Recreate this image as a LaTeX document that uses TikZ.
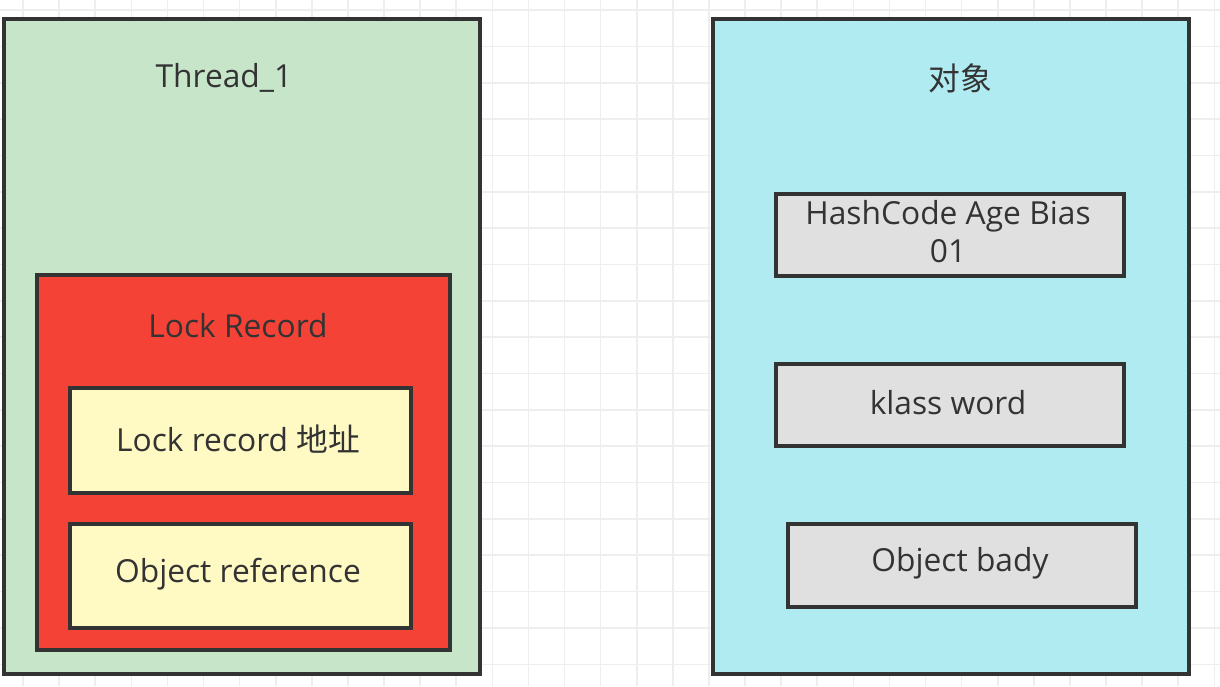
\documentclass[tikz,border=0pt]{standalone}
\usepackage{fontspec}
\setmainfont{Open Sans}
\newfontfamily\cjk{Noto Sans CJK SC}
\definecolor{gridc}{HTML}{EEEEEE}
\definecolor{edge}{HTML}{333333}
\definecolor{txt}{HTML}{333333}
\definecolor{greenf}{HTML}{C7E5C9}
\definecolor{redf}{HTML}{F44336}
\definecolor{yellowf}{HTML}{FFF9C4}
\definecolor{cyanf}{HTML}{B1EBF2}
\definecolor{greyf}{HTML}{E0E0E0}
\tikzset{
  box/.style={draw=edge, line width=3.6pt*0.75, rectangle, anchor=north west, inner sep=0pt, text=txt},
  lbl/.style={text=txt, inner sep=0pt, font=\fontsize{23.8}{28.5}\selectfont},
}
\begin{document}
\begin{tikzpicture}[x=0.75pt,y=-0.75pt]
\useasboundingbox (0,0) rectangle (1220,686);
\fill[white] (0,0) rectangle (1220,686);
% grid
\foreach \i in {0,...,33} {
  \pgfmathsetmacro\xx{23+36.1*\i}
  \draw[gridc, line width=1.2pt] (\xx,0) -- (\xx,686);
}
\foreach \j in {0,...,18} {
  \pgfmathsetmacro\yy{10+36.35*\j}
  \draw[gridc, line width=1.2pt] (0,\yy) -- (1220,\yy);
}
% left
\node[box, fill=greenf, minimum width=476*0.75pt, minimum height=655*0.75pt] (thread) at (2,17) {};
\node[lbl] (threadlbl) at (224,78) {Thread\_1};
\node[box, fill=redf, minimum width=413*0.75pt, minimum height=375*0.75pt] (lockrec) at (35,273) {};
\node[lbl] (locklbl) at (238,326) {Lock Record};
\node[box, fill=yellowf, minimum width=341*0.75pt, minimum height=105*0.75pt] (addr) at (68,386) {};
\node[lbl] (addrlbl) at (238,439) {Lock record {\cjk 地址}};
\node[box, fill=yellowf, minimum width=341*0.75pt, minimum height=104*0.75pt] (objref) at (68,522) {};
\node[lbl] (objreflbl) at (238,574) {Object reference};
% right
\node[box, fill=cyanf, minimum width=476*0.75pt, minimum height=655*0.75pt] (obj) at (711,17) {};
\node[lbl] (objlbl) at (960,78) {\cjk 对象};
\node[box, fill=greyf, minimum width=348*0.75pt, minimum height=82*0.75pt] (hash) at (774,192) {};
\node[lbl, align=center] (hashlbl) at (948,232) {HashCode Age Bias\\01};
\node[box, fill=greyf, minimum width=348*0.75pt, minimum height=82*0.75pt] (klass) at (774,362) {};
\node[lbl] (klasslbl) at (948,403) {klass word};
\node[box, fill=greyf, minimum width=348*0.75pt, minimum height=83*0.75pt] (body) at (786,522) {};
\node[lbl] (bodylbl) at (960,563) {Object bady};
\end{tikzpicture}
\end{document}
